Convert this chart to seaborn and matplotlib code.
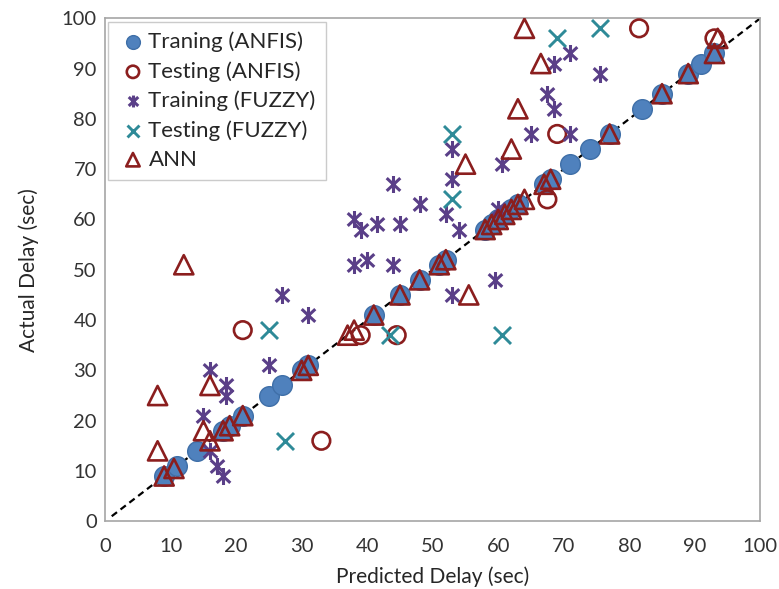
import matplotlib
matplotlib.use("Agg")
import matplotlib.pyplot as plt
import seaborn as sns
from matplotlib.path import Path

# Training (ANFIS): predicted vs actual
anfis_train_pred = [9, 11, 14, 18, 19, 21, 25, 27, 30, 31, 41, 45, 48, 51, 52, 58, 59, 60, 61, 62, 63, 67, 68, 71, 74, 77, 82, 85, 89, 91, 93]
anfis_train_act = [9, 11, 14, 18, 19, 21, 25, 27, 30, 31, 41, 45, 48, 51, 52, 58, 59, 60, 61, 62, 63, 67, 68, 71, 74, 77, 82, 85, 89, 91, 93]

# Testing (ANFIS)
anfis_test_pred = [21, 33, 39, 44.5, 67.5, 69, 81.5, 93]
anfis_test_act = [38, 16, 37, 37, 64, 77, 98, 96]

# Training (FUZZY)
fuzzy_train_pred = [18, 17, 16, 15, 18.5, 18.5, 16, 25, 31, 27, 38, 40, 44, 38, 39, 41.5, 45, 54, 52, 48,
                    44, 53, 53, 60.5, 65, 71, 68.5, 67.5, 75.5, 68.5, 71, 59.5, 53, 60]
fuzzy_train_act = [9, 11, 14, 21, 25, 27, 30, 31, 41, 45, 51, 52, 51, 60, 58, 59, 59, 58, 61, 63,
                   67, 68, 74, 71, 77, 77, 82, 85, 89, 91, 93, 48, 45, 62]

# Testing (FUZZY)
fuzzy_test_pred = [25, 27.5, 43.5, 60.5, 53, 53, 69, 75.5]
fuzzy_test_act = [38, 16, 37, 37, 64, 77, 96, 98]

# ANN
ann_pred = [12, 8, 16, 8, 15, 16, 37, 38, 55.5, 55, 62, 64, 63, 66.5, 64, 93.5,
            9, 10.5, 18, 19, 21, 30, 31, 41, 45, 48, 51, 52, 58, 59, 60, 61, 62, 63, 67, 68, 77, 85, 89, 93]
ann_act = [51, 25, 27, 14, 18, 16, 37, 38, 45, 71, 74, 64, 82, 91, 98, 96,
           9, 10.5, 18, 19, 21, 30, 31, 41, 45, 48, 51, 52, 58, 59, 60, 61, 62, 63, 67, 68, 77, 85, 89, 93]

ideal = [1, 100]

sns.set_style("white")
plt.rcParams["font.family"] = ["Lato", "DejaVu Sans"]

fig = plt.figure(figsize=(7.79, 5.89), dpi=100)
ax = fig.add_axes([0.135, 0.115, 0.841, 0.854])

# asterisk marker: vertical bar plus an X
star = Path([(0, -1), (0, 1), (-0.8, -0.75), (0.8, 0.75), (-0.8, 0.75), (0.8, -0.75)],
            [Path.MOVETO, Path.LINETO, Path.MOVETO, Path.LINETO, Path.MOVETO, Path.LINETO])

ax.plot(ideal, ideal, color="black", linestyle=(0, (3, 2)), linewidth=1.6, zorder=1)

sns.scatterplot(x=anfis_train_pred, y=anfis_train_act, ax=ax, marker="o", s=200,
                color="#4F81BD", edgecolor="#3F6FA8", linewidth=1, label="Traning (ANFIS)", zorder=2)
sns.scatterplot(x=anfis_test_pred, y=anfis_test_act, ax=ax, marker="o", s=160,
                facecolor="none", edgecolor="#8B1E1E", linewidth=1.9, label="Testing (ANFIS)", zorder=3)
sns.scatterplot(x=fuzzy_train_pred, y=fuzzy_train_act, ax=ax, marker=star, s=150,
                color="#5A3F88", edgecolor="#5A3F88", linewidth=2.2, label="Training (FUZZY)", zorder=3)
sns.scatterplot(x=fuzzy_test_pred, y=fuzzy_test_act, ax=ax, marker="x", s=150,
                color="#2E8A98", linewidth=2.1, label="Testing (FUZZY)", zorder=3)
sns.scatterplot(x=ann_pred, y=ann_act, ax=ax, marker="^", s=190,
                facecolor="none", edgecolor="#8B1E1E", linewidth=1.9, label="ANN", zorder=4)

ax.set_xlim(0, 100)
ax.set_ylim(0, 100)
ax.set_xticks(range(0, 101, 10))
ax.set_yticks(range(0, 101, 10))
ax.tick_params(labelsize=14.5, length=0, colors="#333333")
ax.tick_params(axis="x", pad=12)
ax.tick_params(axis="y", pad=6)
for sp in ax.spines.values():
    sp.set_color("#A6A6A6")
    sp.set_linewidth(1.2)

ax.set_xlabel("Predicted Delay (sec)", fontsize=15, labelpad=8)
ax.set_ylabel("Actual Delay (sec)", fontsize=15, labelpad=16)

leg = ax.legend(loc="upper left", fontsize=16, frameon=True, fancybox=False, borderaxespad=0.15,
                handletextpad=0.05, handlelength=1.3, labelspacing=0.4, borderpad=0.45,
                markerscale=0.7)
leg.get_frame().set_edgecolor("#BFBFBF")
leg.get_frame().set_linewidth(1)

fig.savefig("out.png", dpi=100)
